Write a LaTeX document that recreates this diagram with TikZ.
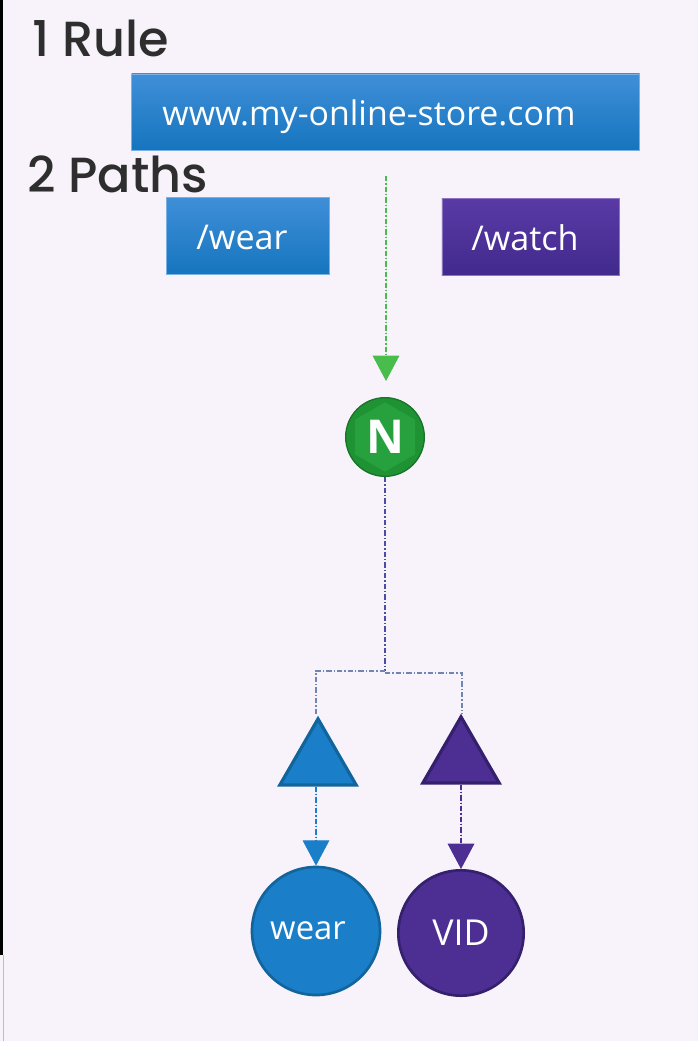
\documentclass[tikz,border=0pt]{standalone}
\usepackage{fontspec}
\setmainfont{Open Sans}
\newfontfamily\headfont{Poppins Medium}
\usetikzlibrary{arrows.meta,shapes.geometric}
\definecolor{pagebg}{HTML}{F8F3FB}
\definecolor{bluetop}{HTML}{3F8FD8}
\definecolor{bluelow}{HTML}{1575BE}
\definecolor{bluefill}{HTML}{1B7EC9}
\definecolor{blueline}{HTML}{12659C}
\definecolor{purptop}{HTML}{5A3AA6}
\definecolor{purplow}{HTML}{412A8C}
\definecolor{purpfill}{HTML}{4D2E92}
\definecolor{purpline}{HTML}{35206E}
\definecolor{greenfill}{HTML}{1F9233}
\definecolor{greenhex}{HTML}{27A03E}
\definecolor{greenarrow}{HTML}{49BD4B}
\definecolor{wirecol}{HTML}{6F86B4}
\definecolor{trunkcol}{HTML}{4A4CA8}
\tikzset{
  heading/.style={font=\headfont\fontsize{37pt}{40pt}\selectfont,text=black!82,inner sep=0pt},
  bluebox/.style={draw=bluetop!70,line width=0.5pt,top color=bluetop,bottom color=bluelow,text=white,inner sep=0pt},
  purpbox/.style={draw=purptop!70,line width=0.5pt,top color=purptop,bottom color=purplow,text=white,inner sep=0pt},
  bluetri/.style={regular polygon,regular polygon sides=3,minimum size=66pt,inner sep=0pt,fill=bluefill,draw=blueline,line width=2.4pt},
  purptri/.style={regular polygon,regular polygon sides=3,minimum size=66pt,inner sep=0pt,fill=purpfill,draw=purpline,line width=2.4pt},
  bluepod/.style={circle,minimum size=96pt,inner sep=0pt,fill=bluefill,draw=blueline,line width=2pt,text=white,font=\fontsize{24.6pt}{26pt}\selectfont},
  purppod/.style={circle,minimum size=94pt,inner sep=0pt,fill=purpfill,draw=purpline,line width=2pt,text=white,font=\fontsize{26.8pt}{28pt}\selectfont},
  wire/.style={dash pattern=on 4pt off 1.5pt on 1pt off 1.5pt,line width=0.8pt},
  wiretip/.style={-{Triangle[length=19pt,width=20pt]}}
}
\begin{document}
\begin{tikzpicture}[x=0.75pt,y=0.75pt]
\useasboundingbox (0,-1041) rectangle (698,0);
\fill [pagebg] (0,-1041) rectangle (698,0);
\fill [black] (0,-955) rectangle (3,0);
\fill [black!25] (3,-1041) rectangle (4,-955);
% headings
\node [heading,anchor=west] (rule) at (32,-38) {1 Rule};
\node [heading,anchor=west] (paths) at (27,-174) {2 Paths};
% host and paths
\node [bluebox,minimum width=381pt,minimum height=57pt] (host) at (385.5,-112) {};
\node [text=white,inner sep=0pt,font=\fontsize{25.4pt}{28pt}\selectfont] (hostlabel) at (369,-117) {www.my-online-store.com};
\node [bluebox,minimum width=122pt,minimum height=58pt] (wearpath) at (248,-236) {};
\node [text=white,inner sep=0pt,font=\fontsize{25.6pt}{28pt}\selectfont] (wearlabel) at (242,-237) {/wear};
\node [purpbox,minimum width=133pt,minimum height=58pt] (watchpath) at (530.5,-237) {};
\node [text=white,inner sep=0pt,font=\fontsize{25.6pt}{28pt}\selectfont] (watchlabel) at (525,-238) {/watch};
% controller
\node [circle,minimum size=59pt,inner sep=0pt,fill=greenfill,draw=greenfill!80!black,line width=1pt] (ctrl) at (385,-437) {};
\node [regular polygon,regular polygon sides=6,minimum size=52pt,inner sep=0pt,fill=greenhex,rotate=30] (ctrlhex) at (ctrl) {};
\node [text=white,inner sep=0pt,font=\bfseries\fontsize{35pt}{38pt}\selectfont] (ctrllabel) at (ctrl) {N};
\coordinate (entry) at (386,-176);
\coordinate (entrytip) at (386,-381);
\draw [wire,wiretip,draw=greenarrow,fill=greenarrow] (entry) -- (entrytip);
% services
\node [bluetri,anchor=south] (wearsvc) at (318,-786.5) {};
\node [purptri,anchor=south] (vidsvc) at (461,-784.5) {};
\node [bluepod] (wearpod) at (316,-931) {};
\node [text=white,inner sep=0pt,font=\fontsize{24.6pt}{26pt}\selectfont] (wearname) at (308,-931) {wear};
\node [purppod] (vidpod) at (461,-933) {VID};
% wires
\coordinate (split) at (385,-671);
\coordinate (wearturn) at (316,-671);
\coordinate (vidsplit) at (385,-673);
\coordinate (vidturn) at (462,-673);
\draw [wire,line width=1.2pt,draw=trunkcol] (ctrl) -- (split);
\draw [wire,draw=wirecol] (split) -- (wearturn) -- (wearturn |- wearsvc.north);
\draw [wire,draw=wirecol] (vidsplit) -- (vidturn) -- (vidturn |- vidsvc.north);
\draw [wire,wiretip,draw=bluefill,fill=bluefill] (wearsvc.south -| wearpod) -- (wearpod);
\draw [wire,wiretip,draw=purpfill,fill=purpfill] (vidsvc.south -| vidpod) -- (vidpod);
\end{tikzpicture}
\end{document}
